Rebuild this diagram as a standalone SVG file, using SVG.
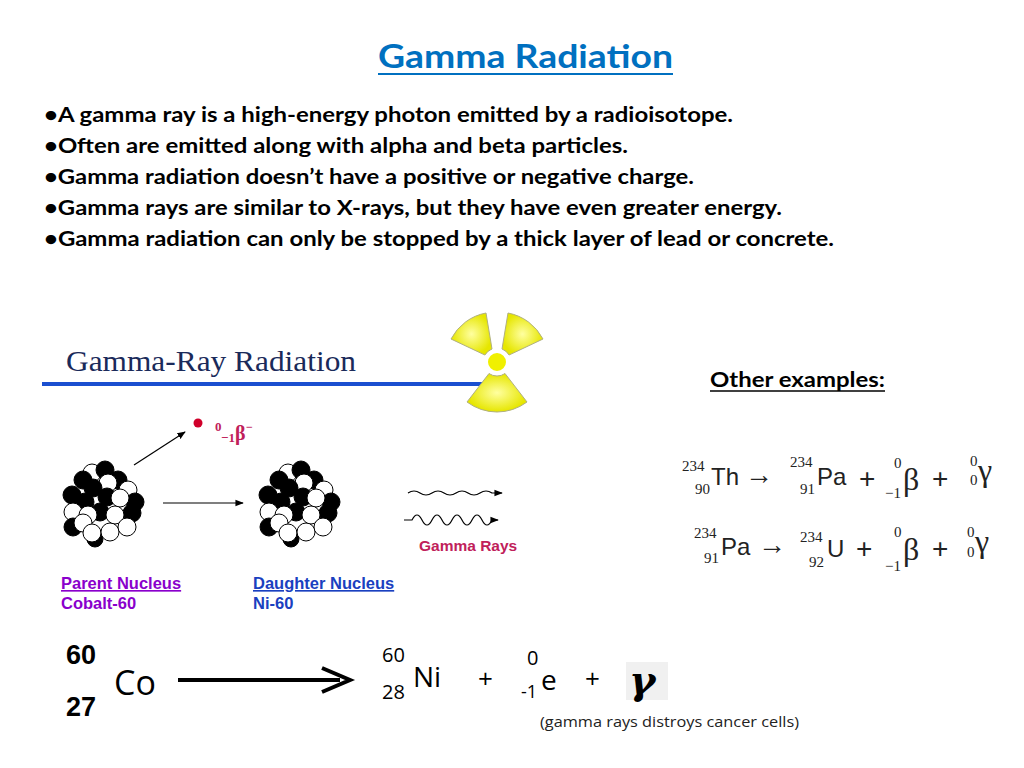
<svg xmlns="http://www.w3.org/2000/svg" width="1024" height="768" viewBox="0 0 1024 768">
<style>
.b{font-family:Lato,"Liberation Sans",sans-serif;font-weight:bold;font-size:21px;fill:#000}
.k{fill:#000;stroke:#000;stroke-width:1}
.w{fill:#fff;stroke:#000;stroke-width:1}
.ar{font-family:"Liberation Sans",Arial,sans-serif}
.tm{font-family:"Liberation Serif",serif}
.eq{font-family:"Liberation Sans",sans-serif}
</style>
<defs>
<marker id="ah" viewBox="0 0 10 10" refX="9" refY="5" markerWidth="7" markerHeight="7" orient="auto"><path d="M0,1 L10,5 L0,9 z" fill="#000"/></marker>
<radialGradient id="yg" cx="50%" cy="50%" r="50%"><stop offset="0" stop-color="#ffffa0"/><stop offset="1" stop-color="#e6e600"/></radialGradient>
<g id="nuc">
<circle class="w" cx="-11" cy="-30" r="9"/><circle class="k" cx="2" cy="-33" r="9"/><circle class="k" cx="-20" cy="-23" r="9"/><circle class="k" cx="15" cy="-23" r="9"/><circle class="w" cx="5" cy="-20" r="9"/><circle class="w" cx="25" cy="-13" r="9"/><circle class="k" cx="-10" cy="-15" r="9"/><circle class="k" cx="-31" cy="-8" r="9"/><circle class="k" cx="-18" cy="-1" r="9"/><circle class="k" cx="32" cy="-1" r="9"/><circle class="k" cx="4" cy="-6" r="9"/><circle class="w" cx="17" cy="-5" r="9"/><circle class="w" cx="-30" cy="9" r="9"/><circle class="k" cx="-3" cy="9" r="9"/><circle class="k" cx="29" cy="10" r="9"/><circle class="w" cx="12" cy="12" r="9"/><circle class="w" cx="-15" cy="12" r="9"/><circle class="k" cx="-30" cy="24" r="9"/><circle class="w" cx="-20" cy="20" r="9"/><circle class="k" cx="-8" cy="36" r="8"/><circle class="w" cx="-11" cy="30" r="9"/><circle class="w" cx="7" cy="29" r="9"/><circle class="w" cx="24" cy="24" r="9"/>
</g>
</defs>
<rect width="1024" height="768" fill="#fff"/>
<text x="378" y="68" textLength="295" lengthAdjust="spacingAndGlyphs" font-family="Lato,sans-serif" font-weight="bold" font-size="33" fill="#0070c0">Gamma Radiation</text>
<line x1="378" y1="74" x2="673" y2="74" stroke="#0070c0" stroke-width="2"/>
<g id="bullets">
<text class="b" x="44" y="122" textLength="689" lengthAdjust="spacingAndGlyphs">•A gamma ray is a high-energy photon emitted by a radioisotope.</text>
<text class="b" x="44" y="153" textLength="584" lengthAdjust="spacingAndGlyphs">•Often are emitted along with alpha and beta particles.</text>
<text class="b" x="44" y="184" textLength="650" lengthAdjust="spacingAndGlyphs">•Gamma radiation doesn’t have a positive or negative charge.</text>
<text class="b" x="44" y="215" textLength="738" lengthAdjust="spacingAndGlyphs">•Gamma rays are similar to X-rays, but they have even greater energy.</text>
<text class="b" x="44" y="246" textLength="790" lengthAdjust="spacingAndGlyphs">•Gamma radiation can only be stopped by a thick layer of lead or concrete.</text>
</g>
<text x="66" y="371" class="tm" font-size="29" textLength="290" lengthAdjust="spacingAndGlyphs" fill="#1a2a5a">Gamma-Ray Radiation</text>
<line x1="42" y1="384" x2="488" y2="384" stroke="#1a4fd0" stroke-width="4"/>
<g id="trefoil" fill="url(#yg)" stroke="#b0b080" stroke-width="1">
<path d="M484.9,355 L451,339 A50,50 0 0 1 486,313 L492,349 A14,14 0 0 0 484.9,355z"/>
<path d="M509.1,355 L543,339 A50,50 0 0 0 508,313 L502,349 A14,14 0 0 1 509.1,355z"/>
<path d="M489,373.5 L467,402 A50,50 0 0 0 527,402 L505,373.5 A14,14 0 0 1 489,373.5z"/>
<circle cx="497" cy="362" r="11" fill="#f0f000" stroke="#fff" stroke-width="4"/>
</g>
<text x="710" y="387" font-family="Lato,sans-serif" font-weight="bold" font-size="20" textLength="175" lengthAdjust="spacingAndGlyphs" fill="#000">Other examples:</text>
<line x1="710" y1="391" x2="885" y2="391" stroke="#000" stroke-width="1.5"/>
<use href="#nuc" x="103" y="503"/>
<use href="#nuc" x="299" y="503"/>
<g id="connectors" stroke="#000" stroke-width="1.2" fill="none">
<line x1="134" y1="465" x2="185" y2="432" marker-end="url(#ah)"/>
<line x1="163" y1="503" x2="243" y2="503" marker-end="url(#ah)"/>
<path d="M408,493 q6,-4 12,0 t12,0 t12,0 t12,0 t12,0 t12,0 t12,0 l10,0" marker-end="url(#ah)"/>
<path d="M404,520 l8,0 q5,-10 10,0 t10,0 t10,0 t10,0 t10,0 t10,0 t10,0 t10,0 l6,0" marker-end="url(#ah)"/>
</g>
<circle cx="198" cy="423" r="4.5" fill="#d0002a"/>
<text x="215" y="431" class="tm" font-weight="bold" font-size="13" fill="#c0205a">0</text>
<text x="221" y="442" class="tm" font-weight="bold" font-size="13" fill="#c0205a">−1</text>
<text x="235" y="440" class="tm" font-weight="bold" font-size="20" fill="#c0205a">β</text>
<text x="246" y="431" class="tm" font-weight="bold" font-size="12" fill="#c0205a">−</text>
<text x="419" y="551" class="ar" font-weight="bold" font-size="15.5" fill="#c0205a">Gamma Rays</text>
<g class="ar" font-size="16.5" font-weight="bold">
<text x="61" y="589" fill="#8a00cc" text-decoration="underline">Parent Nucleus</text>
<text x="61" y="609" fill="#8a00cc">Cobalt-60</text>
<text x="253" y="589" fill="#1a40c0" text-decoration="underline">Daughter Nucleus</text>
<text x="253" y="609" fill="#1a40c0">Ni-60</text>
</g>
<g id="eqs" fill="#222" font-family="'Liberation Serif',serif" font-size="15">
<text x="682" y="471">234</text><text x="695" y="494">90</text><text x="711" y="485" class="eq" font-size="24">Th</text>
<text x="745" y="484" font-size="28">→</text>
<text x="790" y="467">234</text><text x="800" y="494">91</text><text x="817" y="485" class="eq" font-size="24">Pa</text>
<text x="859" y="488" class="eq" font-size="28">+</text>
<text x="894" y="468">0</text><text x="885" y="498">−1</text><text x="903" y="490" font-size="32">β</text>
<text x="932" y="488" class="eq" font-size="28">+</text>
<text x="970" y="466">0</text><text x="970" y="485">0</text><text x="978" y="481" font-size="32">γ</text>
<text x="694" y="538">234</text><text x="704" y="563">91</text><text x="721" y="555" class="eq" font-size="24">Pa</text>
<text x="758" y="554" font-size="28">→</text>
<text x="800" y="542">234</text><text x="809" y="567">92</text><text x="827" y="557" class="eq" font-size="24">U</text>
<text x="856" y="558" class="eq" font-size="28">+</text>
<text x="894" y="537">0</text><text x="885" y="571">−1</text><text x="903" y="560" font-size="32">β</text>
<text x="932" y="558" class="eq" font-size="28">+</text>
<text x="967" y="537">0</text><text x="967" y="557">0</text><text x="975" y="552" font-size="32">γ</text>
</g>
<g id="bottom-eq" font-family="'Open Sans','DejaVu Sans',sans-serif" fill="#000">
<text x="66" y="664" font-family="'Liberation Sans',sans-serif" font-weight="bold" font-size="27">60</text>
<text x="66" y="716" font-family="'Liberation Sans',sans-serif" font-weight="bold" font-size="27">27</text>
<text x="114" y="695" font-size="34">Co</text>
<line x1="178" y1="680" x2="340" y2="680" stroke="#000" stroke-width="4"/>
<path d="M322,668 L350,680 L322,692" fill="none" stroke="#000" stroke-width="4"/>
<text x="382" y="662" font-size="20">60</text>
<text x="382" y="699" font-size="20">28</text>
<text x="413" y="687" font-size="28">Ni</text>
<text x="478" y="688" font-size="26">+</text>
<text x="527" y="665" font-size="20">0</text>
<text x="521" y="698" font-size="18">-1</text>
<text x="541" y="690" font-size="28">e</text>
<text x="585" y="688" font-size="26">+</text>
<rect x="626" y="662" width="42" height="38" fill="#f0f0f0"/>
<text x="629" y="694" font-family="'DejaVu Serif',serif" font-weight="bold" font-style="italic" font-size="40">γ</text>
<text x="540" y="727" font-size="14" textLength="259" lengthAdjust="spacingAndGlyphs" fill="#222">(gamma rays distroys cancer cells)</text>
</g>
</svg>
